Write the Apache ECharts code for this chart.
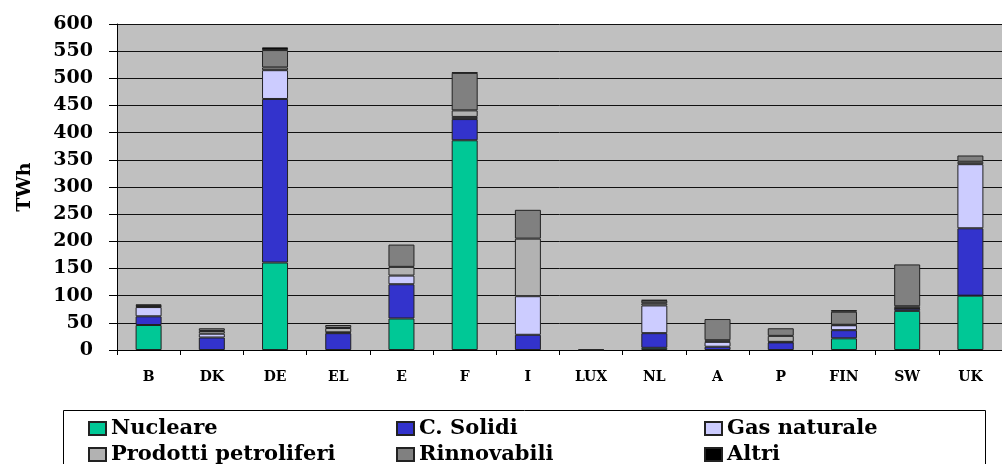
<!DOCTYPE html>
<html>
<head>
<meta charset="utf-8">
<script src="https://cdn.jsdelivr.net/npm/echarts@6/dist/echarts.min.js"></script>
<style>
html,body{margin:0;padding:0;background:#fff;}
#chart{width:1002px;height:464px;}
</style>
</head>
<body>
<div id="chart"></div>
<script>
const categories = ['B','DK','DE','EL','E','F','I','LUX','NL','A','P','FIN','SW','UK'];
const nucleare = [46, 0, 161, 0, 58, 386, 0, 0, 4, 0, 0, 21.5, 72, 100];
const solidi   = [16, 23, 301, 31, 63, 39, 28, 0, 27, 6, 14, 15, 4, 124];
const gas      = [17, 7, 53, 1.5, 16, 4, 71, 0, 51, 9, 1, 9, 1, 118];
const petroli  = [1.5, 5, 5, 8, 16, 12, 106, 0, 4, 3, 11, 1, 3.5, 4.5];
const rinnov   = [1, 5, 32, 5.5, 41, 69, 53, 1, 5, 39, 14, 24, 77, 11.5];
const altri    = [2.5, 0, 5, 0, 0, 1, 0, 0, 1, 0, 0, 3, 0, 0];
const seriesNames = ['Nucleare','C. Solidi','Gas naturale','Prodotti petroliferi','Rinnovabili','Altri'];
const yTicks = [0, 50, 100, 150, 200, 250, 300, 350, 400, 450, 500, 550, 600];

const seriesData = [nucleare, solidi, gas, petroli, rinnov, altri];
const colors = ['#00c896', '#3333cc', '#ccccff', '#b2b2b2', '#808080', '#000000'];
const FONT = 'DejaVu Serif';

const chart = echarts.init(document.getElementById('chart'), null, {renderer: 'canvas'});

const series = seriesNames.map((name, i) => ({
  name: name,
  type: 'bar',
  stack: 'total',
  barWidth: 26,
  data: seriesData[i].map(v => v === 0 ? null : v),
  itemStyle: { color: colors[i], borderColor: '#222', borderWidth: 1 },
  emphasis: { disabled: true },
  animation: false
}));

// legend positions: [left, top]
const legendPos = [[88, 417], [396, 417], [704, 417], [88, 443], [396, 443], [704, 443]];
const legends = seriesNames.map((name, i) => ({
  data: [name],
  left: legendPos[i][0],
  top: legendPos[i][1],
  orient: 'horizontal',
  padding: 0,
  itemWidth: 17,
  itemHeight: 13,
  icon: 'rect',
  selectedMode: false,
  textStyle: { fontFamily: FONT, fontWeight: 'bold', fontSize: 21, color: '#000', lineHeight: 23 }
}));

chart.setOption({
  animation: false,
  backgroundColor: '#fff',
  grid: {
    left: 117, top: 24, right: -11, bottom: 114,
    show: true, backgroundColor: '#c0c0c0', borderWidth: 0,
    containLabel: false
  },
  legend: legends,
  xAxis: {
    type: 'category',
    data: categories,
    axisLine: { show: true, lineStyle: { color: '#000', width: 1 } },
    axisTick: { show: true, length: 5, lineStyle: { color: '#000' } },
    axisLabel: { margin: 20, fontFamily: FONT, fontWeight: 'bold', fontSize: 14, color: '#000' }
  },
  yAxis: {
    type: 'value',
    min: yTicks[0], max: yTicks[yTicks.length - 1], interval: 50,
    name: 'TWh',
    nameLocation: 'middle',
    nameRotate: 90,
    nameGap: 82,
    nameTextStyle: { fontFamily: FONT, fontWeight: 'bold', fontSize: 19, color: '#000' },
    axisLine: { show: true, lineStyle: { color: '#000', width: 1 } },
    axisTick: { show: true, length: 8, lineStyle: { color: '#000' } },
    axisLabel: { margin: 24, fontFamily: FONT, fontWeight: 'bold', fontSize: 19, color: '#000' },
    splitLine: { show: true, lineStyle: { color: '#111', width: 1 } }
  },
  graphic: [{
    type: 'rect',
    shape: { x: 63.5, y: 410.5, width: 922, height: 80 },
    style: { fill: 'none', stroke: '#000', lineWidth: 1 },
    silent: true
  }],
  series: series
});
</script>
</body>
</html>
